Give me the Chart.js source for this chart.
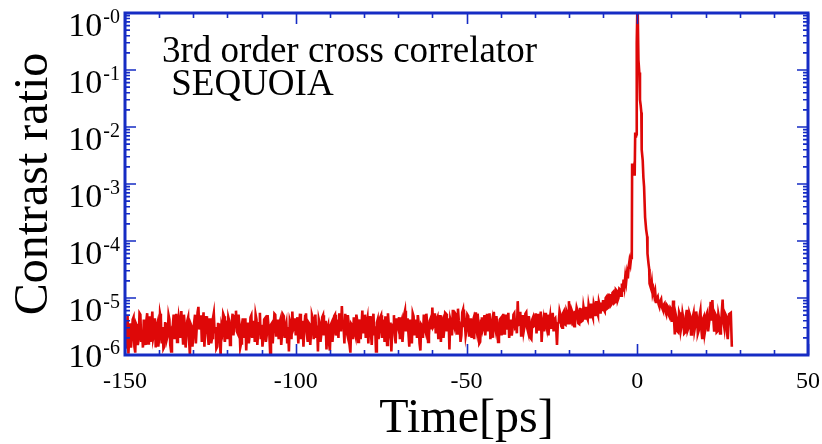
<!DOCTYPE html>
<html>
<head>
<meta charset="utf-8">
<script src="https://cdn.jsdelivr.net/npm/chart.js@4.4.1/dist/chart.umd.min.js"></script>
<style>
html,body{margin:0;padding:0;background:#ffffff;}
#wrap{width:822px;height:444px;position:relative;}
</style>
</head>
<body>
<div id="wrap"><canvas id="c" width="822" height="444"></canvas></div>
<script>
// ---------------- data ----------------
const timePs = [
-150,-149.75,-149.5,-149.25,-149,-148.75,-148.5,-148.25,-148,-147.75,-147.5,-147.25,-147,-146.75,-146.5,-146.25,-146,-145.75,-145.5,-145.25,
-145,-144.75,-144.5,-144.25,-144,-143.75,-143.5,-143.25,-143,-142.75,-142.5,-142.25,-142,-141.75,-141.5,-141.25,-141,-140.75,-140.5,-140.25,
-140,-139.75,-139.5,-139.25,-139,-138.75,-138.5,-138.25,-138,-137.75,-137.5,-137.25,-137,-136.75,-136.5,-136.25,-136,-135.75,-135.5,-135.25,
-135,-134.75,-134.5,-134.25,-134,-133.75,-133.5,-133.25,-133,-132.75,-132.5,-132.25,-132,-131.75,-131.5,-131.25,-131,-130.75,-130.5,-130.25,
-130,-129.75,-129.5,-129.25,-129,-128.75,-128.5,-128.25,-128,-127.75,-127.5,-127.25,-127,-126.75,-126.5,-126.25,-126,-125.75,-125.5,-125.25,
-125,-124.75,-124.5,-124.25,-124,-123.75,-123.5,-123.25,-123,-122.75,-122.5,-122.25,-122,-121.75,-121.5,-121.25,-121,-120.75,-120.5,-120.25,
-120,-119.75,-119.5,-119.25,-119,-118.75,-118.5,-118.25,-118,-117.75,-117.5,-117.25,-117,-116.75,-116.5,-116.25,-116,-115.75,-115.5,-115.25,
-115,-114.75,-114.5,-114.25,-114,-113.75,-113.5,-113.25,-113,-112.75,-112.5,-112.25,-112,-111.75,-111.5,-111.25,-111,-110.75,-110.5,-110.25,
-110,-109.75,-109.5,-109.25,-109,-108.75,-108.5,-108.25,-108,-107.75,-107.5,-107.25,-107,-106.75,-106.5,-106.25,-106,-105.75,-105.5,-105.25,
-105,-104.75,-104.5,-104.25,-104,-103.75,-103.5,-103.25,-103,-102.75,-102.5,-102.25,-102,-101.75,-101.5,-101.25,-101,-100.75,-100.5,-100.25,
-100,-99.75,-99.5,-99.25,-99,-98.75,-98.5,-98.25,-98,-97.75,-97.5,-97.25,-97,-96.75,-96.5,-96.25,-96,-95.75,-95.5,-95.25,
-95,-94.75,-94.5,-94.25,-94,-93.75,-93.5,-93.25,-93,-92.75,-92.5,-92.25,-92,-91.75,-91.5,-91.25,-91,-90.75,-90.5,-90.25,
-90,-89.75,-89.5,-89.25,-89,-88.75,-88.5,-88.25,-88,-87.75,-87.5,-87.25,-87,-86.75,-86.5,-86.25,-86,-85.75,-85.5,-85.25,
-85,-84.75,-84.5,-84.25,-84,-83.75,-83.5,-83.25,-83,-82.75,-82.5,-82.25,-82,-81.75,-81.5,-81.25,-81,-80.75,-80.5,-80.25,
-80,-79.75,-79.5,-79.25,-79,-78.75,-78.5,-78.25,-78,-77.75,-77.5,-77.25,-77,-76.75,-76.5,-76.25,-76,-75.75,-75.5,-75.25,
-75,-74.75,-74.5,-74.25,-74,-73.75,-73.5,-73.25,-73,-72.75,-72.5,-72.25,-72,-71.75,-71.5,-71.25,-71,-70.75,-70.5,-70.25,
-70,-69.75,-69.5,-69.25,-69,-68.75,-68.5,-68.25,-68,-67.75,-67.5,-67.25,-67,-66.75,-66.5,-66.25,-66,-65.75,-65.5,-65.25,
-65,-64.75,-64.5,-64.25,-64,-63.75,-63.5,-63.25,-63,-62.75,-62.5,-62.25,-62,-61.75,-61.5,-61.25,-61,-60.75,-60.5,-60.25,
-60,-59.75,-59.5,-59.25,-59,-58.75,-58.5,-58.25,-58,-57.75,-57.5,-57.25,-57,-56.75,-56.5,-56.25,-56,-55.75,-55.5,-55.25,
-55,-54.75,-54.5,-54.25,-54,-53.75,-53.5,-53.25,-53,-52.75,-52.5,-52.25,-52,-51.75,-51.5,-51.25,-51,-50.75,-50.5,-50.25,
-50,-49.75,-49.5,-49.25,-49,-48.75,-48.5,-48.25,-48,-47.75,-47.5,-47.25,-47,-46.75,-46.5,-46.25,-46,-45.75,-45.5,-45.25,
-45,-44.75,-44.5,-44.25,-44,-43.75,-43.5,-43.25,-43,-42.75,-42.5,-42.25,-42,-41.75,-41.5,-41.25,-41,-40.75,-40.5,-40.25,
-40,-39.75,-39.5,-39.25,-39,-38.75,-38.5,-38.25,-38,-37.75,-37.5,-37.25,-37,-36.75,-36.5,-36.25,-36,-35.75,-35.5,-35.25,
-35,-34.75,-34.5,-34.25,-34,-33.75,-33.5,-33.25,-33,-32.75,-32.5,-32.25,-32,-31.75,-31.5,-31.25,-31,-30.75,-30.5,-30.25,
-30,-29.75,-29.5,-29.25,-29,-28.75,-28.5,-28.25,-28,-27.75,-27.5,-27.25,-27,-26.75,-26.5,-26.25,-26,-25.75,-25.5,-25.25,
-25,-24.75,-24.5,-24.25,-24,-23.75,-23.5,-23.25,-23,-22.75,-22.5,-22.25,-22,-21.75,-21.5,-21.25,-21,-20.75,-20.5,-20.25,
-20,-19.75,-19.5,-19.25,-19,-18.75,-18.5,-18.25,-18,-17.75,-17.5,-17.25,-17,-16.75,-16.5,-16.25,-16,-15.75,-15.5,-15.25,
-15,-14.75,-14.5,-14.25,-14,-13.75,-13.5,-13.25,-13,-12.75,-12.5,-12.25,-12,-11.75,-11.5,-11.25,-11,-10.75,-10.5,-10.25,
-10,-9.75,-9.5,-9.25,-9,-8.75,-8.5,-8.25,-8,-7.75,-7.5,-7.25,-7,-6.75,-6.5,-6.25,-6,-5.75,-5.5,-5.25,
-5,-4.75,-4.5,-4.25,-4,-3.75,-3.5,-3.25,-3,-2.75,
-2.5,-2.25,-2,-1.75,-1.6,-1.5,-1.25,-1,-0.75,-0.6,
-0.4,-0.25,-0.15,0,0.1,0.2,0.35,0.6,0.8,1.0,
1.2,1.3,1.6,1.8,2.0,2.3,2.6,2.9,3.0,3.3,
3.5,3.6,4.0,4.25,4.5,4.75,
5,5.25,5.5,5.75,6,6.25,6.5,6.75,7,7.25,7.5,7.75,8,8.25,8.5,8.75,9,9.25,9.5,9.75,
10,10.25,10.5,10.75,11,11.25,11.5,11.75,12,12.25,12.5,12.75,13,13.25,13.5,13.75,14,14.25,14.5,14.75,
15,15.25,15.5,15.75,16,16.25,16.5,16.75,17,17.25,17.5,17.75,18,18.25,18.5,18.75,19,19.25,19.5,19.75,
20,20.25,20.5,20.75,21,21.25,21.5,21.75,22,22.25,22.5,22.75,23,23.25,23.5,23.75,24,24.25,24.5,24.75,
25,25.25,25.5,25.75,26,26.25,26.5,26.9,27.4,27.7
];

const contrastRatio = [
3.0e-6,1.3e-6,1.6e-6,5.0e-6,1.05e-6,2.2e-6,3.6e-6,1.35e-6,2.0e-6,4.2e-6,4.6e-6,1.4e-6,1.1e-6,3.5e-6,3.2e-6,1.5e-6,1.9e-6,5.4e-6,5.1e-6,1.7e-6,
2.6e-6,1.35e-6,4.2e-6,1.9e-6,1.5e-6,4.0e-6,5.4e-6,1.6e-6,3.0e-6,4.8e-6,1.7e-6,3.4e-6,5.8e-6,2.0e-6,2.4e-6,4.4e-6,1.35e-6,3.1e-6,3.6e-6,1.4e-6,
2.0e-6,5.3e-6,4.4e-6,1.6e-6,3.1e-6,1.3e-6,1.4e-6,3.6e-6,3.7e-6,1.9e-6,2.2e-6,5.0e-6,4.2e-6,1.5e-6,1.15e-6,3.0e-6,3.3e-6,5.1e-6,1.9e-6,3.2e-6,
5.3e-6,1.7e-6,2.8e-6,4.6e-6,3.6e-6,2.0e-6,5.9e-6,3.0e-6,1.6e-6,5.1e-6,3.4e-6,1.35e-6,2.4e-6,4.0e-6,4.6e-6,1.9e-6,1.0e-6,3.5e-6,3.2e-6,1.4e-6,
2.2e-6,3.7e-6,5.1e-6,1.6e-6,3.0e-6,5.6e-6,7.0e-6,2.8e-6,3.5e-6,5.0e-6,1.7e-6,3.3e-6,5.6e-6,1.4e-6,2.8e-6,4.8e-6,3.7e-6,2.2e-6,1.5e-6,4.2e-6,
4.2e-6,1.6e-6,2.0e-6,4.4e-6,5.4e-6,2.4e-6,3.1e-6,1.3e-6,1.4e-6,3.5e-6,3.6e-6,1.9e-6,1.0e-6,3.1e-6,2.6e-6,5.3e-6,4.8e-6,1.7e-6,3.0e-6,4.0e-6,
1.9e-6,4.6e-6,4.0e-6,1.5e-6,2.8e-6,3.6e-6,5.3e-6,2.2e-6,3.3e-6,4.8e-6,6.0e-6,2.6e-6,2.4e-6,5.1e-6,3.5e-6,1.35e-6,1.6e-6,3.4e-6,4.4e-6,2.0e-6,
3.1e-6,4.4e-6,1.2e-6,3.3e-6,3.7e-6,1.6e-6,2.2e-6,4.6e-6,5.0e-6,2.0e-6,3.0e-6,4.0e-6,1.7e-6,5.1e-6,4.2e-6,1.5e-6,2.6e-6,3.6e-6,5.5e-6,1.9e-6,
3.4e-6,1.4e-6,2.0e-6,4.2e-6,4.4e-6,1.7e-6,2.2e-6,5.0e-6,3.3e-6,2.4e-6,1.1e-6,3.4e-6,3.6e-6,1.6e-6,2.8e-6,5.3e-6,5.1e-6,2.2e-6,3.2e-6,4.2e-6,
1.9e-6,3.7e-6,4.2e-6,1.5e-6,2.4e-6,5.1e-6,4.8e-6,2.0e-6,3.0e-6,3.6e-6,1.6e-6,3.1e-6,1.15e-6,4.0e-6,3.5e-6,1.9e-6,5.8e-6,2.8e-6,3.1e-6,4.4e-6,
2.2e-6,3.5e-6,4.6e-6,1.6e-6,3.3e-6,5.3e-6,1.9e-6,3.1e-6,4.0e-6,1.4e-6,2.8e-6,4.8e-6,5.4e-6,2.4e-6,1.7e-6,3.7e-6,3.5e-6,1.5e-6,2.6e-6,5.0e-6,
4.4e-6,1.9e-6,3.1e-6,5.1e-6,2.0e-6,3.3e-6,1.15e-6,4.2e-6,3.6e-6,1.7e-6,2.4e-6,4.6e-6,5.0e-6,2.2e-6,3.2e-6,4.0e-6,1.25e-6,3.0e-6,3.4e-6,1.6e-6,
1.2e-6,3.4e-6,3.7e-6,1.7e-6,2.6e-6,4.8e-6,5.1e-6,2.2e-6,3.0e-6,4.2e-6,2.0e-6,5.4e-6,4.2e-6,2.6e-6,7.2e-6,3.3e-6,3.2e-6,1.6e-6,5.3e-6,2.8e-6,
2.4e-6,5.0e-6,3.6e-6,1.5e-6,1.1e-6,3.5e-6,3.3e-6,1.9e-6,4.6e-6,2.6e-6,2.2e-6,5.1e-6,4.0e-6,1.7e-6,3.0e-6,4.2e-6,1.9e-6,3.2e-6,6.0e-6,2.4e-6,
3.1e-6,5.1e-6,2.0e-6,3.6e-6,4.4e-6,1.6e-6,3.4e-6,4.8e-6,2.6e-6,1.5e-6,3.7e-6,5.3e-6,2.2e-6,3.2e-6,1.15e-6,3.7e-6,4.2e-6,1.9e-6,2.8e-6,4.6e-6,
5.0e-6,2.0e-6,3.2e-6,4.2e-6,1.7e-6,4.8e-6,3.6e-6,1.5e-6,5.4e-6,3.3e-6,2.6e-6,3.7e-6,1.15e-6,2.8e-6,3.4e-6,5.0e-6,2.2e-6,1.6e-6,4.4e-6,3.5e-6,
3.0e-6,4.6e-6,1.9e-6,3.5e-6,4.0e-6,1.7e-6,2.8e-6,5.1e-6,6.0e-6,2.6e-6,3.3e-6,4.4e-6,2.4e-6,1.4e-6,4.2e-6,3.4e-6,1.6e-6,5.4e-6,4.8e-6,2.2e-6,
3.1e-6,4.2e-6,2.0e-6,5.0e-6,3.6e-6,1.6e-6,1.2e-6,3.4e-6,3.2e-6,2.0e-6,5.1e-6,3.0e-6,2.6e-6,5.3e-6,3.5e-6,1.7e-6,2.2e-6,4.0e-6,4.4e-6,2.8e-6,
6.8e-6,3.1e-6,3.3e-6,5.4e-6,2.4e-6,4.2e-6,4.6e-6,1.9e-6,3.0e-6,5.0e-6,1.7e-6,3.6e-6,4.0e-6,2.0e-6,2.8e-6,5.5e-6,5.3e-6,2.6e-6,3.2e-6,4.4e-6,
1.25e-6,4.2e-6,3.6e-6,2.2e-6,6.2e-6,3.4e-6,3.0e-6,5.3e-6,5.0e-6,2.4e-6,6.5e-6,4.0e-6,3.4e-6,1.7e-6,2.2e-6,5.6e-6,6.3e-6,3.1e-6,3.7e-6,2.2e-6,
2.8e-6,5.1e-6,4.8e-6,2.2e-6,3.3e-6,4.4e-6,2.0e-6,3.7e-6,4.2e-6,1.9e-6,5.6e-6,3.2e-6,2.6e-6,5.3e-6,3.6e-6,1.6e-6,1.7e-6,4.0e-6,4.6e-6,2.8e-6,
3.2e-6,5.0e-6,2.2e-6,3.6e-6,5.3e-6,2.6e-6,3.5e-6,5.4e-6,1.9e-6,3.3e-6,4.0e-6,2.0e-6,5.7e-6,3.4e-6,2.8e-6,4.8e-6,3.4e-6,1.7e-6,2.0e-6,4.2e-6,
4.4e-6,2.2e-6,3.1e-6,5.3e-6,2.4e-6,4.0e-6,5.1e-6,2.8e-6,3.6e-6,5.5e-6,2.0e-6,3.5e-6,4.2e-6,2.2e-6,3.0e-6,5.1e-6,5.4e-6,3.1e-6,3.3e-6,2.4e-6,
8.8e-6,3.4e-6,3.5e-6,5.7e-6,2.2e-6,3.7e-6,5.0e-6,2.6e-6,3.2e-6,5.3e-6,5.6e-6,3.0e-6,2.6e-6,4.8e-6,3.7e-6,2.0e-6,1.9e-6,4.2e-6,4.6e-6,3.2e-6,
3.3e-6,5.4e-6,2.4e-6,4.0e-6,5.3e-6,2.8e-6,3.6e-6,5.8e-6,1.7e-6,3.4e-6,4.2e-6,2.6e-6,5.5e-6,3.6e-6,3.0e-6,5.1e-6,2.2e-6,3.7e-6,4.8e-6,3.0e-6,
3.5e-6,5.5e-6,2.6e-6,4.2e-6,4.4e-6,3.0e-6,1.5e-6,3.6e-6,3.7e-6,5.9e-6,5.1e-6,3.2e-6,3.0e-6,5.4e-6,5.8e-6,3.5e-6,3.4e-6,6.0e-6,5.4e-6,3.6e-6,
8.8e-6,4.2e-6,3.9e-6,6.2e-6,5.6e-6,3.4e-6,3.2e-6,6.0e-6,4.8e-6,6.8e-6,6.0e-6,3.6e-6,3.5e-6,6.4e-6,6.6e-6,3.9e-6,4.0e-6,7.0e-6,5.6e-6,4.2e-6,
7.0e-6,4.6e-6,4.2e-6,7.6e-6,6.2e-6,4.4e-6,8.0e-6,5.2e-6,4.6e-6,7.9e-6,6.8e-6,4.8e-6,8.8e-6,5.6e-6,5.0e-6,8.6e-6,7.4e-6,5.3e-6,8.3e-6,5.9e-6,
9.2e-6,6.2e-6,5.8e-6,1.0e-5,1.05e-5,6.6e-6,6.8e-6,1.14e-5,1.18e-5,7.4e-6,7.8e-6,1.23e-5,1.28e-5,8.2e-6,8.5e-6,1.4e-5,1.34e-5,9.0e-6,1.0e-5,1.45e-5,
1.4e-5,1.1e-5,1.8e-5,1.3e-5,2.1e-5,1.6e-5,2.4e-5,1.9e-5,2.7e-5,2.2e-5,
3.6e-5,4.6e-5,3.9e-5,5.4e-5,4.8e-5,2.3e-3,1.5e-3,1.9e-3,1.4e-3,8.0e-3,
6.5e-3,7.5e-3,0.3,1.0,0.55,0.95,0.15,0.09,0.03,0.024,
0.018,4.0e-3,2.6e-3,1.3e-3,9.0e-4,2.6e-4,1.6e-4,1.2e-4,6.0e-5,4.0e-5,
3.2e-5,1.8e-5,1.5e-5,1.9e-5,1.2e-5,1.4e-5,
1.1e-5,1.3e-5,8.5e-6,9.8e-6,1.05e-5,7.8e-6,7.0e-6,8.8e-6,9.5e-6,6.8e-6,6.2e-6,7.6e-6,8.0e-6,5.8e-6,5.2e-6,7.4e-6,7.0e-6,5.0e-6,4.6e-6,6.6e-6,
6.2e-6,3.8e-6,9.0e-6,4.4e-6,2.3e-6,5.2e-6,4.4e-6,2.6e-6,2.5e-6,5.6e-6,5.0e-6,2.7e-6,3.3e-6,5.4e-6,4.4e-6,2.4e-6,2.5e-6,4.8e-6,6.2e-6,2.7e-6,
3.0e-6,5.5e-6,4.9e-6,2.3e-6,2.6e-6,4.6e-6,5.4e-6,2.7e-6,3.3e-6,5.8e-6,4.5e-6,2.4e-6,2.7e-6,4.9e-6,6.0e-6,2.9e-6,2.0e-6,4.3e-6,4.7e-6,2.4e-6,
3.0e-6,5.1e-6,5.6e-6,2.6e-6,2.6e-6,4.8e-6,8.6e-6,4.0e-6,9.2e-6,4.6e-6,2.7e-6,5.4e-6,5.0e-6,2.5e-6,2.6e-6,5.2e-6,4.3e-6,2.4e-6,2.9e-6,5.6e-6,
9.4e-6,3.8e-6,3.0e-6,5.3e-6,4.9e-6,2.6e-6,1.9e-6,5.2e-6,5.5e-6,1.4e-6
];

const xTickLabels = [-150, -100, -50, 0, 50];
const xTickMarks = [-150,-140,-130,-120,-110,-100,-90,-80,-70,-60,-50,-40,-30,-20,-10,0,10,20,30,40,50];
const yDecades = [1e-6, 1e-5, 1e-4, 1e-3, 1e-2, 1e-1, 1];
const yExponentLabels = ['-6', '-5', '-4', '-3', '-2', '-1', '-0'];
const yMinorFactors = [2, 3, 4, 5, 6, 7, 8, 9];
const annotationLines = ['3rd order cross correlator', ' SEQUOIA'];
const xTitleText = 'Time[ps]';
const yTitleText = 'Contrast ratio';

// ---------------- styling ----------------
const FONT = '"Liberation Serif", "Times New Roman", serif';
const FRAME_BLUE = 'rgb(22,44,196)';
const LINE_RED = 'rgb(222,8,8)';

const decorPlugin = {
  id: 'decor',
  afterDatasetsDraw(chart) {
    const { ctx, chartArea: a, scales: { x, y } } = chart;
    ctx.save();
    ctx.strokeStyle = FRAME_BLUE;
    ctx.lineWidth = 1.6;
    ctx.beginPath();
    xTickMarks.forEach(v => {
      const px = Math.round(x.getPixelForValue(v)) + 0.5;
      const len = (v % 50 === 0) ? 11 : 5;
      ctx.moveTo(px, a.bottom); ctx.lineTo(px, a.bottom - len);
      ctx.moveTo(px, a.top); ctx.lineTo(px, a.top + len);
    });
    yDecades.forEach(d => {
      const py = y.getPixelForValue(d);
      ctx.moveTo(a.left, py); ctx.lineTo(a.left + 11, py);
      ctx.moveTo(a.right, py); ctx.lineTo(a.right - 11, py);
      if (d < 1) {
        yMinorFactors.forEach(m => {
          const pm = y.getPixelForValue(d * m);
          ctx.moveTo(a.left, pm); ctx.lineTo(a.left + 5, pm);
          ctx.moveTo(a.right, pm); ctx.lineTo(a.right - 5, pm);
        });
      }
    });
    ctx.stroke();
    ctx.lineWidth = 3;
    ctx.strokeRect(a.left, a.top, a.right - a.left, a.bottom - a.top);
    ctx.restore();
  },
  afterDraw(chart) {
    const { ctx, chartArea: a, scales: { y } } = chart;
    ctx.save();
    ctx.fillStyle = '#000';
    ctx.textBaseline = 'alphabetic';
    // y tick labels with superscript exponents
    yDecades.forEach((d, i) => {
      const py = y.getPixelForValue(d);
      const base = py + (i === 0 ? 12 : 23);
      const right = a.left - 5;
      ctx.textAlign = 'right';
      ctx.font = '20px ' + FONT;
      ctx.fillText(yExponentLabels[i], right, base - 13);
      const w = ctx.measureText(yExponentLabels[i]).width;
      ctx.font = '34px ' + FONT;
      ctx.fillText('10', right - w - 1, base);
    });
    // annotation
    ctx.textAlign = 'left';
    ctx.font = '37px ' + FONT;
    ctx.fillText(annotationLines[0], a.left + 37, a.top + 49);
    ctx.fillText(annotationLines[1], a.left + 37, a.top + 82);
    ctx.restore();
  }
};

const points = timePs.map((t, i) => ({ x: t, y: contrastRatio[i] }));

new Chart(document.getElementById('c'), {
  type: 'line',
  data: {
    datasets: [{
      data: points,
      borderColor: LINE_RED,
      borderWidth: 2.6,
      pointRadius: 0,
      tension: 0,
      fill: false
    }]
  },
  options: {
    responsive: false,
    devicePixelRatio: 1,
    animation: false,
    layout: { padding: { top: 13, right: 14, left: 0, bottom: 0 } },
    plugins: { legend: { display: false }, tooltip: { enabled: false } },
    scales: {
      x: {
        type: 'linear',
        position: 'bottom',
        min: -150,
        max: 50,
        afterBuildTicks: s => { s.ticks = xTickLabels.map(v => ({ value: v })); },
        afterFit: s => { s.height = 89; s.paddingLeft = 0; s.paddingRight = 0; },
        ticks: {
          color: '#000',
          font: { family: FONT, size: 24 },
          padding: 12,
          maxRotation: 0,
          autoSkip: false,
          callback: v => String(v)
        },
        grid: { display: false, drawTicks: false },
        border: { display: false },
        title: {
          display: true,
          text: xTitleText,
          color: '#000',
          font: { family: FONT, size: 48, lineHeight: 1 },
          padding: { top: 0, bottom: 1 }
        }
      },
      y: {
        type: 'logarithmic',
        position: 'left',
        min: 1e-6,
        max: 1,
        afterFit: s => { s.width = 125; },
        ticks: { display: false },
        grid: { display: false, drawTicks: false },
        border: { display: false },
        title: {
          display: true,
          text: yTitleText,
          color: '#000',
          font: { family: FONT, size: 48, lineHeight: 1 },
          padding: { top: 10, bottom: 0 }
        }
      }
    }
  },
  plugins: [decorPlugin]
});
</script>
</body>
</html>
